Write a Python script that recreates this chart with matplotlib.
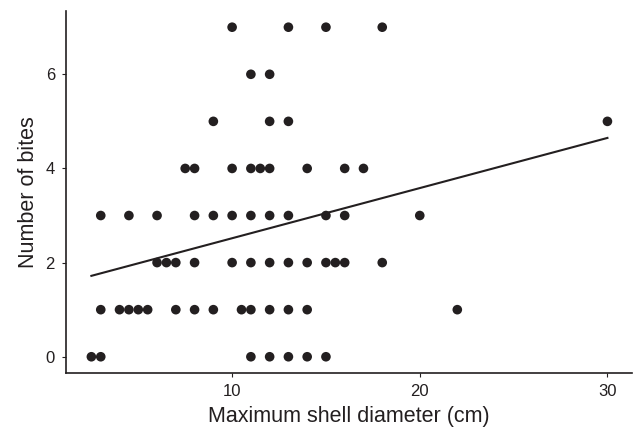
import numpy as np
import matplotlib
matplotlib.use("Agg")
import matplotlib.pyplot as plt

plt.rcParams['font.family'] = ['Liberation Sans', 'DejaVu Sans']

# shell diameter (cm) for each number of bites
d0 = [2.5, 3, 11, 12, 13, 14, 15]
d1 = [3, 4, 4.5, 5, 5.5, 7, 8, 9, 10.5, 11, 12, 13, 14, 22]
d2 = [6, 6.5, 7, 8, 10, 11, 12, 13, 14, 15, 15.5, 16, 18]
d3 = [3, 4.5, 6, 8, 9, 10, 11, 12, 13, 15, 16, 20]
d4 = [7.5, 8, 10, 11, 11.5, 12, 14, 16, 17]
d5 = [9, 12, 13, 30]
d6 = [11, 12]
d7 = [10, 13, 15, 18]

groups = [d0, d1, d2, d3, d4, d5, d6, d7]
diam = np.array([x for g in groups for x in g], dtype=float)
bites = np.array([b for b, g in enumerate(groups) for _ in g], dtype=float)

fig = plt.figure(figsize=(6.35, 4.29), dpi=100)
ax = fig.add_axes([0.104, 0.13, 0.891, 0.845])

ax.scatter(diam, bites, s=48, color='#231f20', edgecolors='none', zorder=3)

# linear fit
slope, intercept = np.polyfit(diam, bites, 1)
xs = np.array([diam.min(), diam.max()])
ax.plot(xs, intercept + slope * xs, color='#231f20', linewidth=1.5, zorder=2)

ax.set_xlim(1.15, 31.3)
ax.set_ylim(-0.35, 7.35)
ax.set_xticks([10, 20, 30])
ax.set_yticks([0, 2, 4, 6])
ax.set_xlabel('Maximum shell diameter (cm)', fontsize=15.5, color='#231f20', labelpad=5)
ax.set_ylabel('Number of bites', fontsize=15.5, color='#231f20', labelpad=5)
ax.tick_params(labelsize=12, length=3, width=0.8, colors='#231f20', pad=5)

for s in ['top', 'right']:
    ax.spines[s].set_visible(False)
for s in ['left', 'bottom']:
    ax.spines[s].set_linewidth(1.2)
    ax.spines[s].set_color('#231f20')

fig.savefig('out.png', dpi=100)
